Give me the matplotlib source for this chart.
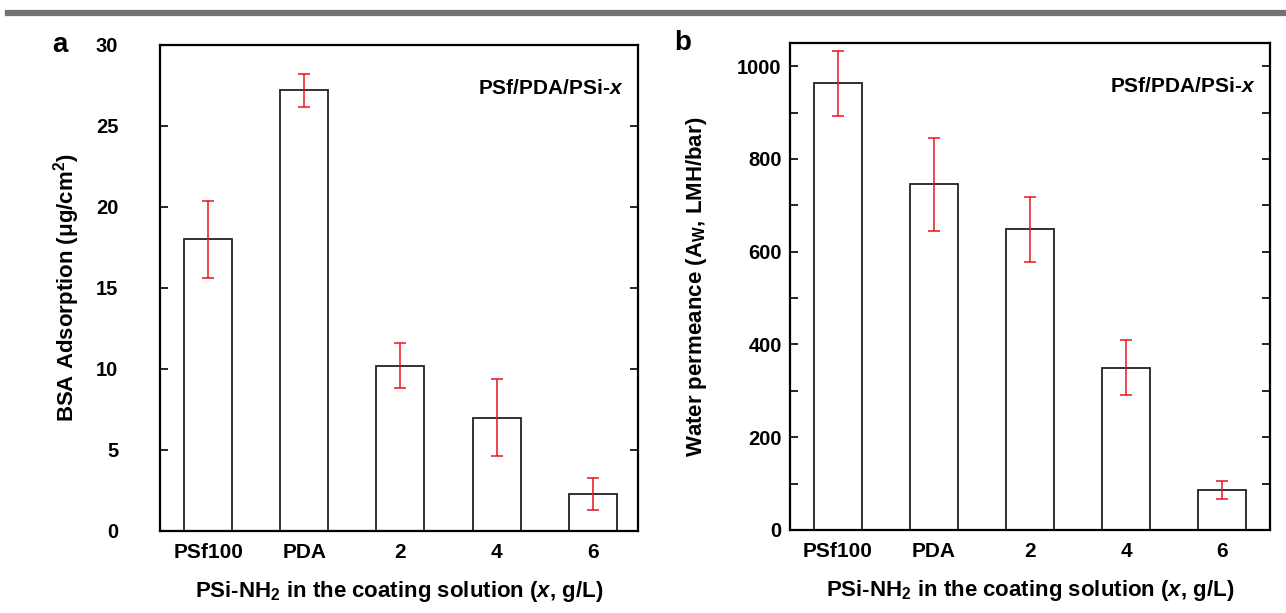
import numpy as np
import matplotlib.pyplot as plt
from matplotlib.lines import Line2D

plt.rcParams['font.family'] = ['Liberation Sans', 'DejaVu Sans']
plt.rcParams['font.weight'] = 'bold'
plt.rcParams['mathtext.fontset'] = 'custom'
plt.rcParams['mathtext.rm'] = 'Liberation Sans:bold'
plt.rcParams['mathtext.it'] = 'Liberation Sans:bold:italic'
plt.rcParams['mathtext.bf'] = 'Liberation Sans:bold'

# data
categories = ["PSf100", "PDA", "2", "4", "6"]
bsa = [18.0, 27.2, 10.2, 7.0, 2.3]
bsa_err = [2.4, 1.0, 1.4, 2.4, 1.0]
perm = [963, 745, 648, 350, 86]
perm_err = [70, 100, 70, 60, 20]

fig = plt.figure(figsize=(12.86, 6.13), dpi=100)

# gray rule across the top
fig.add_artist(Line2D([8 / 1286, 1.0], [1 - 13 / 613, 1 - 13 / 613],
                      color="#757170", lw=4.5, transform=fig.transFigure))

ax1 = fig.add_axes([0.1244, 0.1338, 0.3717, 0.7928])
ax2 = fig.add_axes([0.6143, 0.1354, 0.3733, 0.7945])

x = np.arange(len(categories))


def style(ax, vals, errs, ypad):
    for s in ax.spines.values():
        s.set_linewidth(1.6)
    ax.bar(x, vals, width=0.5, color="white", edgecolor="#222222",
           linewidth=1.3, zorder=2)
    ax.errorbar(x, vals, yerr=errs, fmt="none", ecolor="#e8141c",
                elinewidth=1.1, capsize=4, capthick=1.1, zorder=3)
    ax.set_xlim(-0.5, 4.47)
    ax.set_xticks(x)
    ax.set_xticklabels(categories)
    ax.tick_params(axis="x", length=0, pad=9, labelsize=15)
    ax.tick_params(axis="y", which="both", direction="in", right=True,
                   length=6, width=1.2, labelsize=14.5, pad=ypad)
    ax.set_xlabel(r"PSi-NH$_2$ in the coating solution ($x$, g/L)",
                  fontsize=16, fontweight="bold", labelpad=12)
    ax.text(0.97, 0.91, "PSf/PDA/PSi-$x$", transform=ax.transAxes,
            ha="right", va="center", fontsize=15, fontweight="bold")


style(ax1, bsa, bsa_err, 30)
ax1.set_ylim(0, 30)
ax1.set_yticks(np.arange(0, 31, 5))
ax1.set_ylabel("BSA Adsorption (μg/cm$^2$)", fontsize=16, fontweight="bold",
               labelpad=10)

style(ax2, perm, perm_err, 6)
ax2.set_xlim(-0.5, 4.5)
ax2.set_ylim(0, 1050)
ax2.set_yticks(np.arange(0, 1001, 200))
ax2.set_yticks(np.arange(100, 1001, 200), minor=True)
ax2.set_ylabel(r"Water permeance (A$_\mathrm{W}$, LMH/bar)", fontsize=16,
               fontweight="bold", labelpad=20)

fig.text(60 / 1286, 1 - 45 / 613, "a", fontsize=20, fontweight="bold",
         ha="center", va="center")
fig.text(683 / 1286, 1 - 43 / 613, "b", fontsize=20, fontweight="bold",
         ha="center", va="center")

fig.savefig("out.png", dpi=100)
